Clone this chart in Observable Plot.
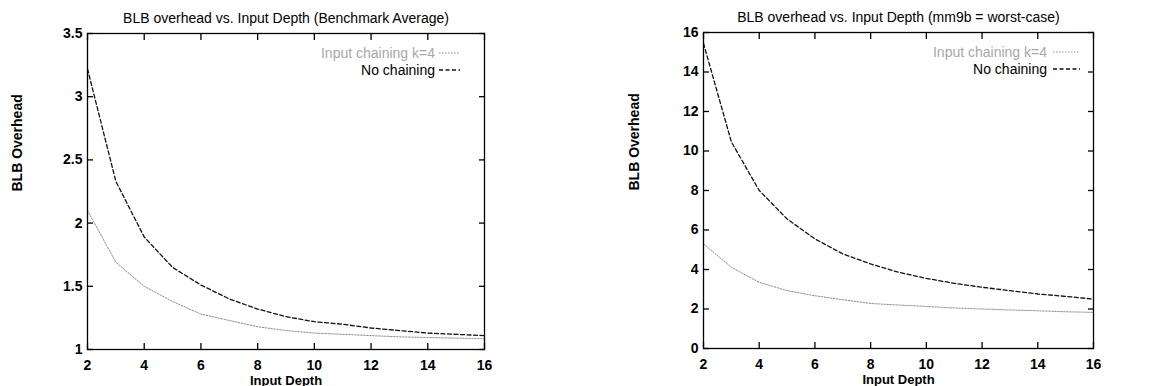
<!DOCTYPE html>
<html><head><meta charset="utf-8">
<script src="https://cdn.jsdelivr.net/npm/d3@7"></script>
<script src="https://cdn.jsdelivr.net/npm/@observablehq/plot@0.6"></script>
<style>
body{margin:0;background:#fff;}
#wrap{display:flex;width:1149px;height:386px;}
#wrap svg{font-family:"Liberation Sans",Arial,Helvetica,sans-serif;overflow:visible;}
</style></head><body><div id="wrap"></div>
<script>
const depths = [2,3,4,5,6,7,8,9,10,11,12,13,14,15,16];
const xTicks = [2,4,6,8,10,12,14,16];
const seriesNames = ["Input chaining k=4", "No chaining"];

// Left: Benchmark Average
const avgNoChain = [3.22,2.33,1.89,1.65,1.51,1.40,1.32,1.26,1.22,1.20,1.17,1.15,1.13,1.12,1.11];
const avgChain   = [2.10,1.69,1.50,1.38,1.28,1.23,1.18,1.15,1.13,1.12,1.11,1.10,1.095,1.09,1.085];
const avgTicks = [1,1.5,2,2.5,3,3.5];

// Right: mm9b worst-case
const worstNoChain = [15.45,10.46,8.0,6.56,5.55,4.79,4.28,3.86,3.55,3.30,3.10,2.93,2.76,2.64,2.50];
const worstChain   = [5.30,4.11,3.35,2.93,2.67,2.47,2.28,2.20,2.13,2.05,2.00,1.95,1.91,1.86,1.83];
const worstTicks = [0,2,4,6,8,10,12,14,16];

const chainStyle = {stroke:"#8c8c8c", strokeWidth:1, strokeDasharray:"1.5,1.5"};
const noChainStyle = {stroke:"#111", strokeWidth:1.3, strokeDasharray:"4,2.5"};

function legendMark(textOff, sampleStart, sampleEnd) {
  return (index, scales, values, dims) => {
    const g = d3.create("svg:g").attr("font-size", 14);
    const xr = dims.width - dims.marginRight;
    const rows = [
      {label: seriesNames[0], off: 20, fill: "#a8a8a8", st: chainStyle},
      {label: seriesNames[1], off: 37, fill: "#000", st: noChainStyle}
    ];
    for (const r of rows) {
      const y = dims.marginTop + r.off;
      g.append("text").attr("x", xr - textOff).attr("y", y).attr("dy", "0.35em")
        .attr("text-anchor", "end").attr("fill", r.fill).text(r.label);
      g.append("line").attr("x1", xr - sampleStart).attr("x2", xr - sampleEnd)
        .attr("y1", y).attr("y2", y).attr("stroke", r.st.stroke)
        .attr("stroke-width", r.st.strokeWidth).attr("stroke-dasharray", r.st.strokeDasharray);
    }
    return g.node();
  };
}

function makeChart(o) {
  const rows = depths.map((d, i) => ({depth: d, v: o.chain[i], s: seriesNames[0]}));
  const rowsNo = depths.map((d, i) => ({depth: d, v: o.noChain[i], s: seriesNames[1]}));
  const tick = {tickSize: -6, strokeWidth: 1.3, stroke: "#000", fill: "none", label: null};
  const lab = {fontSize: 14, fontWeight: "bold", fill: "#000", text: d => String(d)};
  return Plot.plot({
    width: o.width, height: 386,
    marginLeft: o.ml, marginRight: o.mr, marginTop: o.mt, marginBottom: o.mb,
    style: {fontFamily: '"Liberation Sans",Arial,sans-serif', background: "white"},
    x: {domain: [2, 16], axis: null},
    y: {domain: o.ydomain, axis: null},
    marks: [
      Plot.line(rows, {x: "depth", y: "v", ...chainStyle}),
      Plot.line(rowsNo, {x: "depth", y: "v", ...noChainStyle}),
      Plot.frame({stroke: "#000", strokeWidth: 1.3}),
      Plot.axisY(o.yticks, {anchor: "left", ...tick}),
      Plot.axisY(o.yticks, {anchor: "right", ...tick}),
      Plot.axisX(xTicks, {anchor: "bottom", ...tick}),
      Plot.axisX(xTicks, {anchor: "top", ...tick}),
      Plot.text(o.yticks, {y: d => d, frameAnchor: "left", dx: -5, textAnchor: "end", lineAnchor: "middle", ...lab}),
      Plot.text(xTicks, {x: d => d, frameAnchor: "bottom", dy: 16, lineAnchor: "middle", ...lab}),
      Plot.text([o.title], {text: d => d, frameAnchor: "top", dy: -15, lineAnchor: "middle", fontSize: 14, fill: "#000"}),
      Plot.text(["Input Depth"], {text: d => d, frameAnchor: "bottom", dy: 31, lineAnchor: "middle", fontSize: 13, fontWeight: "bold", fill: "#000"}),
      Plot.text(["BLB Overhead"], {text: d => d, frameAnchor: "left", dx: o.ylabelDx, rotate: -90, lineAnchor: "middle", fontSize: 14, fontWeight: "bold", fill: "#000"}),
      legendMark(o.legText, o.legS0, o.legS1)
    ]
  });
}

const wrap = document.getElementById("wrap");
wrap.appendChild(makeChart({
  width: 574, ml: 87, mr: 90, mt: 33, mb: 37,
  ydomain: [1, 3.5], yticks: avgTicks,
  title: "BLB overhead vs. Input Depth (Benchmark Average)",
  noChain: avgNoChain, chain: avgChain, ylabelDx: -70,
  legText: 49, legS0: 45, legS1: 24
}));
wrap.appendChild(makeChart({
  width: 575, ml: 129, mr: 56, mt: 32, mb: 38,
  ydomain: [0, 16], yticks: worstTicks,
  title: "BLB overhead vs. Input Depth (mm9b = worst-case)",
  noChain: worstNoChain, chain: worstChain, ylabelDx: -69,
  legText: 46, legS0: 40, legS1: 13
}));
</script></body></html>
